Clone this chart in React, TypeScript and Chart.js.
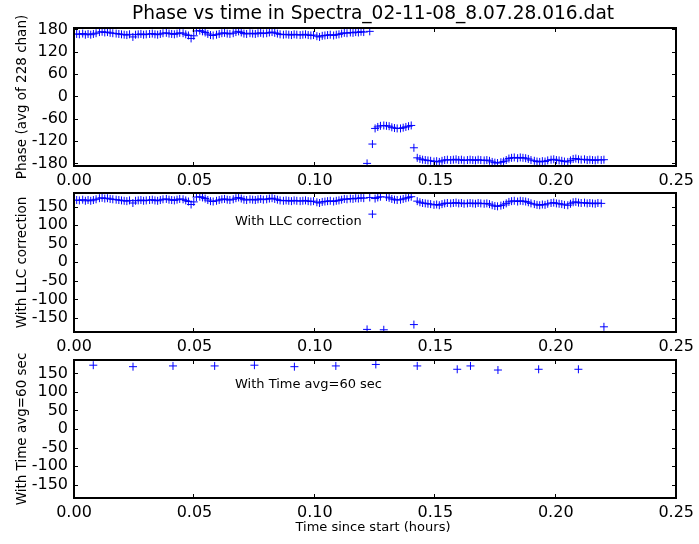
import React, { useEffect, useRef } from 'react';
import { Chart, registerables } from 'chart.js';

Chart.register(...registerables);

// ---- data ----
const sampleSeconds = [
  4, 8, 13, 17, 21, 25, 29, 33, 38, 42, 46, 50,
  54, 58, 63, 67, 71, 75, 79, 83, 88, 92, 96, 100,
  104, 108, 113, 117, 121, 125, 129, 133, 138, 142, 146, 150,
  154, 158, 163, 167, 171, 175, 179, 183, 188, 192, 196, 200,
  204, 208, 213, 217, 221, 225, 229, 233, 238, 242, 246, 250,
  254, 258, 263, 267, 271, 275, 279, 283, 288, 292, 296, 300,
  304, 308, 313, 317, 321, 325, 329, 333, 338, 342, 346, 350,
  354, 358, 363, 367, 371, 375, 379, 383, 388, 392, 396, 400,
  404, 408, 413, 417, 421, 425, 429, 433, 438, 442, 446, 450,
  454, 458, 463, 467, 471, 475, 479, 483, 488, 492, 496, 500,
  504, 508, 513, 517, 521, 525, 529, 533, 538, 542, 546, 550,
  554, 558, 563, 567, 571, 575, 579, 583, 588, 592, 596, 600,
  604, 608, 613, 617, 621, 625, 629, 633, 638, 642, 646, 650,
  654, 658, 663, 667, 671, 675, 679, 683, 688, 692, 696, 700,
  704, 708, 713, 717, 721, 725, 729, 733, 738, 742, 746, 750,
  754, 758, 763, 767, 771, 775, 779, 783, 788, 792,
];

const phaseValues = [
  168, 167, 169, 166, 168, 166, 168, 170,
  173, 174, 172, 173, 171,
  170, 169, 168, 167, 166, 165, 167,
  160,
  166, 167, 168, 166, 167, 168, 169, 167, 166,
  168, 170, 171, 169, 168, 167, 169, 171, 170, 167,
  164, 156, 163,
  176, 177, 175, 172,
  168, 165, 164, 166, 168,
  170, 171, 169, 168, 170, 173, 175, 172,
  169, 168, 170, 169, 168, 170, 171, 169, 170, 172,
  173, 171, 169, 167, 166,
  167, 166, 165, 167, 166, 165, 166, 167, 165, 164, 165,
  162, 160, 163, 164,
  165, 166, 164, 166, 167, 169,
  171, 170, 172, 171, 173, 172, 174,
  173,
  -180, 175, -128,
  -86, -82, -79, -78, -79, -80, -83, -85, -86, -86, -84, -82, -80, -78,
  -138,
  -165, -168, -170, -171,
  -172, -173, -175, -174, -176, -173, -171,
  -170, -171, -170, -169, -171, -170, -172, -171, -170, -171, -172, -170,
  -171, -172, -171, -173, -176, -178, -179,
  -177, -175, -171, -167,
  -165, -164, -166, -164, -165, -166, -168,
  -171, -173, -175, -176, -174, -175, -172,
  -170, -169, -171, -172, -173, -175,
  -176, -172, -168, -167, -169,
  -170, -169, -171, -170, -171, -172, -170, -171, -170,
];

const llcValues = [
  168, 167, 169, 166, 168, 166, 168, 170,
  173, 174, 172, 173, 171,
  170, 169, 168, 167, 166, 165, 167,
  160,
  166, 167, 168, 166, 167, 168, 169, 167, 166,
  168, 170, 171, 169, 168, 167, 169, 171, 170, 167,
  164, 156, 163,
  176, 177, 175, 172,
  168, 165, 164, 166, 168,
  170, 171, 169, 168, 170, 173, 175, 172,
  169, 168, 170, 169, 168, 170, 171, 169, 170, 172,
  173, 171, 169, 167, 166,
  167, 166, 165, 167, 166, 165, 166, 167, 165, 164, 165,
  162, 160, 163, 164,
  165, 166, 164, 166, 167, 169,
  171, 170, 172, 171, 173, 172, 174,
  173,
  -181, 175, 130,
  172, 175, 177, -182, 176, 174, 171, 169, 168, 169, 171, 173, 175, 177,
  -168,
  165, 162, 160, 159,
  158, 157, 155, 156, 154, 157, 159,
  160, 159, 160, 161, 159, 160, 158, 159, 160, 159, 158, 160,
  159, 158, 159, 157, 154, 152, 151,
  153, 155, 159, 163,
  165, 166, 164, 166, 165, 164, 162,
  159, 157, 155, 154, 156, 155, 158,
  160, 161, 159, 158, 157, 155,
  154, 158, 162, 163, 161,
  160, 161, 159, 160, 159, 158, 160, 159,
  -174,
];

const avgTimes = [0.0080, 0.0245, 0.0411, 0.0584, 0.0749, 0.0915, 0.1087, 0.1253, 0.1425, 0.1591, 0.1646, 0.1760, 0.1929, 0.2094];
const avgValues = [172, 168, 170, 170, 172, 168, 170, 174, 170, 161, 170, 159, 161, 161];

const xTicks = [0, 0.05, 0.1, 0.15, 0.2, 0.25];
const phaseTicks = [180, 120, 60, 0, -60, -120, -180];
const llcTicks = [150, 100, 50, 0, -50, -100, -150];

const titleText = 'Phase vs time in Spectra_02-11-08_8.07.28.016.dat';
const xLabelText = 'Time since start (hours)';

// ---- layout ----
const W = 699;
const H = 544;
const FONT = '"DejaVu Sans", "Bitstream Vera Sans", sans-serif';
const AREA_LEFT = 74;
const AREA_RIGHT = 678;

type PanelCfg = {
  top: number;
  bottom: number;
  yMin: number;
  yMax: number;
  yTicks: number[];
  points: { x: number; y: number }[];
  yLabel: string;
  note?: string;
  noteY?: number;
  title?: string;
  xLabel?: string;
};

const hours = (s: number) => s / 3600;

const panels: PanelCfg[] = [
  {
    top: 28,
    bottom: 166,
    yMin: -187,
    yMax: 184,
    yTicks: phaseTicks,
    points: sampleSeconds.map((s, i) => ({ x: hours(s), y: phaseValues[i] })),
    yLabel: 'Phase (avg of 228 chan)',
    title: titleText,
  },
  {
    top: 193,
    bottom: 332,
    yMin: -188,
    yMax: 187,
    yTicks: llcTicks,
    points: sampleSeconds.map((s, i) => ({ x: hours(s), y: llcValues[i] })),
    yLabel: 'With LLC correction',
    note: 'With LLC correction',
    noteY: 222,
  },
  {
    top: 360,
    bottom: 498,
    yMin: -186,
    yMax: 186,
    yTicks: llcTicks,
    points: avgTimes.map((t, i) => ({ x: t, y: avgValues[i] })),
    yLabel: 'With Time avg=60 sec',
    note: 'With Time avg=60 sec',
    noteY: 385,
    xLabel: xLabelText,
  },
];

function makePlugin(cfg: PanelCfg) {
  return {
    id: 'mplFrame',
    afterDraw(chart: any) {
      const ctx = chart.ctx as CanvasRenderingContext2D;
      const xs = chart.scales.x;
      const ys = chart.scales.y;
      const L = Math.round(xs.getPixelForValue(xs.min));
      const R = Math.round(xs.getPixelForValue(xs.max));
      const T = Math.round(ys.getPixelForValue(ys.max));
      const B = Math.round(ys.getPixelForValue(ys.min));
      ctx.save();
      ctx.fillStyle = '#000';
      const tl = 4;
      // inward ticks on all four sides
      xTicks.forEach((v) => {
        const px = Math.round(xs.getPixelForValue(v));
        ctx.fillRect(px - 1, B - tl, 1, tl);
        ctx.fillRect(px - 1, T, 1, tl);
      });
      cfg.yTicks.forEach((v) => {
        const py = Math.round(ys.getPixelForValue(v));
        ctx.fillRect(L, py, tl, 1);
        ctx.fillRect(R - tl, py, tl, 1);
      });
      // frame, 2px, pixel aligned
      ctx.fillRect(L - 1, T - 1, R - L + 2, 2);
      ctx.fillRect(L - 1, B - 1, R - L + 2, 2);
      ctx.fillRect(L - 1, T - 1, 2, B - T + 2);
      ctx.fillRect(R - 1, T - 1, 2, B - T + 2);

      // y label
      ctx.save();
      ctx.translate(22, (T + B) / 2);
      ctx.rotate(-Math.PI / 2);
      ctx.font = `13.5px ${FONT}`;
      ctx.textAlign = 'center';
      ctx.textBaseline = 'middle';
      ctx.fillText(cfg.yLabel, 0, 0);
      ctx.restore();

      if (cfg.note) {
        ctx.font = `13px ${FONT}`;
        ctx.textAlign = 'left';
        ctx.textBaseline = 'middle';
        ctx.fillText(cfg.note, 235, cfg.noteY as number);
      }
      if (cfg.title) {
        ctx.font = `18.6px ${FONT}`;
        ctx.textAlign = 'center';
        ctx.textBaseline = 'middle';
        ctx.fillText(cfg.title, 373, 14);
      }
      if (cfg.xLabel) {
        ctx.font = `13px ${FONT}`;
        ctx.textAlign = 'center';
        ctx.textBaseline = 'middle';
        ctx.fillText(cfg.xLabel, 373, 528);
      }
      ctx.restore();
    },
  };
}

function Panel({ cfg }: { cfg: PanelCfg }) {
  const ref = useRef<HTMLCanvasElement | null>(null);
  useEffect(() => {
    if (!ref.current) return;
    const chart = new Chart(ref.current, {
      type: 'scatter',
      data: {
        datasets: [
          {
            data: cfg.points,
            pointStyle: 'cross',
            pointRadius: 4,
            borderColor: '#0000ff',
            backgroundColor: '#0000ff',
            borderWidth: 1,
            showLine: false,
          } as any,
        ],
      },
      options: {
        animation: false,
        responsive: false,
        maintainAspectRatio: false,
        devicePixelRatio: 1,
        events: [],
        layout: { padding: { left: 0, right: W - AREA_RIGHT, top: cfg.top, bottom: 0 } },
        plugins: { legend: { display: false }, tooltip: { enabled: false }, title: { display: false } },
        scales: {
          x: {
            type: 'linear',
            min: 0,
            max: 0.25,
            afterBuildTicks: (s: any) => {
              s.ticks = xTicks.map((v) => ({ value: v }));
            },
            afterFit: (s: any) => {
              s.height = H - cfg.bottom;
            },
            grid: { display: false, drawTicks: false },
            border: { display: false },
            ticks: {
              color: '#000',
              font: { family: FONT, size: 16 },
              padding: 5,
              maxRotation: 0,
              autoSkip: false,
              callback: (v: any) => Number(v).toFixed(2),
            },
          },
          y: {
            type: 'linear',
            min: cfg.yMin,
            max: cfg.yMax,
            afterBuildTicks: (s: any) => {
              s.ticks = cfg.yTicks.map((v) => ({ value: v }));
            },
            afterFit: (s: any) => {
              s.width = AREA_LEFT;
            },
            grid: { display: false, drawTicks: false },
            border: { display: false },
            ticks: {
              color: '#000',
              font: { family: FONT, size: 16 },
              padding: 6,
              autoSkip: false,
              callback: (v: any) => String(v),
            },
          },
        },
      } as any,
      plugins: [makePlugin(cfg)],
    });
    return () => chart.destroy();
  }, [cfg]);
  return (
    <canvas
      ref={ref}
      width={W}
      height={H}
      style={{ position: 'absolute', left: 0, top: 0, width: W, height: H }}
    />
  );
}

export default function App() {
  return (
    <div style={{ position: 'fixed', left: 0, top: 0, width: W, height: H, background: '#fff' }}>
      {panels.map((p, i) => (
        <Panel key={i} cfg={p} />
      ))}
    </div>
  );
}
